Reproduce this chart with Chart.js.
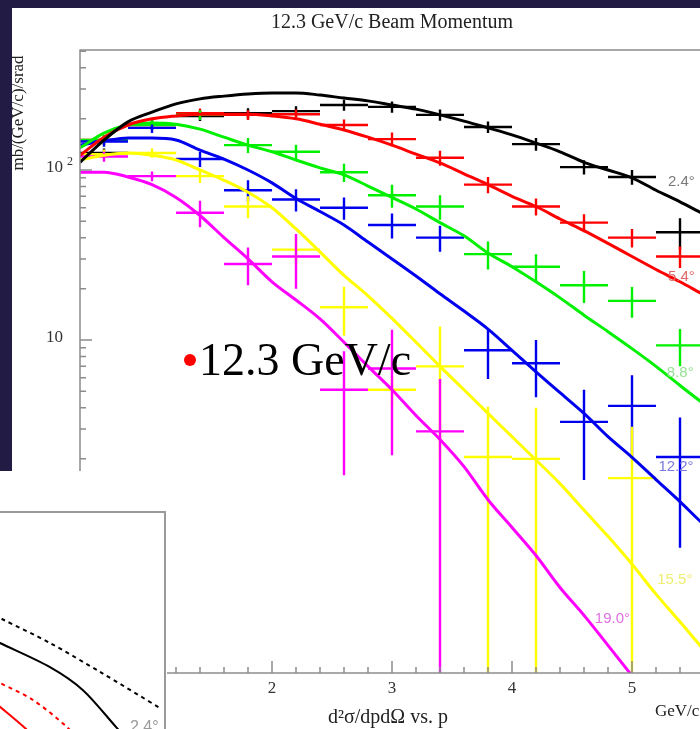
<!DOCTYPE html>
<html>
<head>
<meta charset="utf-8">
<title>12.3 GeV/c Beam Momentum</title>
<script src="https://cdn.jsdelivr.net/npm/chart.js@4.4.1/dist/chart.umd.min.js"></script>
<style>
  html, body { margin: 0; padding: 0; }
  body { position: relative; width: 700px; height: 729px; overflow: hidden; background: #221c44; }
  canvas { display: block; }
  #sheet { position: absolute; left: 12px; top: 8px; width: 790px; height: 721px; background: #fff; }
  #inset { position: absolute; left: 0; top: 471px; width: 167px; height: 258px; background: #fff; }
  #bullet { position: absolute; left: 184px; top: 354px; width: 12px; height: 12px; border-radius: 50%; background: #f00; }
  #caption { position: absolute; left: 199px; top: 337px; font: 46px/46px "Liberation Serif", "Times New Roman", serif; color: #000; white-space: nowrap; }
</style>
</head>
<body>
<div id="sheet"><canvas id="main" width="790" height="721"></canvas></div>
<div id="inset"><canvas id="inset-canvas" width="167" height="258"></canvas></div>
<div id="bullet"></div>
<div id="caption">12.3 GeV/c</div>
<script>
// momentum grid for the model curves (GeV/c)
const pCurve = [0.4, 0.6, 0.8, 1.0, 1.2, 1.4, 1.6, 1.8, 2.0, 2.2, 2.4, 2.6, 2.8, 3.0, 3.2,
  3.4, 3.6, 3.8, 4.0, 4.2, 4.4, 4.6, 4.8, 5.0, 5.2, 5.4, 5.6, 5.8, 6.0];

// model curves, mb/(GeV/c)/srad
const curve24 = [111, 150, 192, 219, 245, 262, 272, 280, 284, 284, 276, 265, 255, 241, 228,
  211, 194, 177, 161, 144, 128, 111, 100, 90, 76, 65, 55, 47, 39];
const curve54 = [122, 156, 184, 200, 208, 213, 213, 213, 208, 200, 186, 172, 156, 140, 124,
  110, 95, 82, 70, 61, 51.5, 44, 37, 31, 26, 22, 18.4, 15.5, 13];
const curve88 = [135, 165, 184, 189, 186, 174, 156, 140, 128, 114.5, 103, 93.5, 80.5, 69, 59,
  49, 41, 32.5, 27, 22, 17.7, 14, 11.2, 8.9, 7.0, 5.4, 4.2, 3.3, 2.6];
const curve122 = [140, 148, 154, 154, 150, 131, 116, 100, 84, 68, 57, 47.5, 37.7, 30, 23.8,
  18.7, 14.8, 11.6, 8.7, 6.5, 4.9, 3.7, 2.7, 2.04, 1.51, 1.12, 0.82, 0.64, 0.51];
const curve155 = [114.5, 122, 126, 122, 114.5, 100, 87, 74, 60, 45, 33, 24, 18.2, 13.4, 9.7,
  7.0, 5.1, 3.7, 2.7, 1.97, 1.43, 1.0, 0.70, 0.48, 0.32, 0.22, 0.15, 0.105, 0.076];
const curve190 = [97, 97, 91, 82, 69, 54, 40, 30, 22, 17.2, 13.3, 9.7, 7.0, 5.1, 3.6,
  2.6, 1.8, 1.15, 0.79, 0.54, 0.35, 0.24, 0.16, 0.106, 0.07, 0.045, 0.03, 0.02, 0.013];

// measured bins: centre momentum, value and error
const pBins = [0.6, 1.0, 1.4, 1.8, 2.2, 2.6, 3.0, 3.4, 3.8, 4.2, 4.6, 5.0, 5.4];
const binHalfWidth = 0.2;

const data24 = [126, 185, 208, 216, 222, 241, 235, 211, 179, 142, 104, 91, 43];
const err24 = [8, 12, 14, 15, 15, 18, 18, 16, 14, 12, 10, 9, 9];
const data54 = [150, 184, 216, 211, 213, 184, 152, 118, 82, 61, 49, 40, 31];
const err54 = [10, 12, 14, 14, 14, 14, 14, 12, 9, 7, 6, 5, 4.5];
const data88 = [150, 184, 211, 140, 128, 97, 71, 61, 32, 27, 21, 17, 9.3];
const err88 = [10, 12, 14, 14, 13, 12, 11, 10, 6, 5, 4.5, 3.5, 2.3];
const data122 = [147, 177, 116, 76, 67, 60, 47.5, 40, 8.7, 7.3, 3.3, 4.1, 2.05];
const err122 = [10, 12, 12, 11, 10, 9, 8, 7, 2.8, 2.7, 1.8, 2.1, 1.45];
const data155 = [124, 126, 92, 61, 34, 15.6, 5.1, 7.0, 2.05, 2.0, null, 1.54, null];
const err155 = [8, 8, 8, 9, 6.4, 5, 1, 5, 2.0, 2.0, null, 1.55, null];
const data190 = [120, 92, 56, 28, 31, 5.1, 6.8, 2.9, null, null, null, null, null];
const err190 = [8, 6, 10, 7, 11, 3.5, 4.7, 3, null, null, null, null, null];

const angleNames = ["2.4°", "5.4°", "8.8°", "12.2°", "15.5°", "19.0°"];
const angleLabelP = [5.3, 5.3, 5.29, 5.22, 5.21, 4.69];
const angleLabelV = [85, 23.5, 6.4, 1.8, 0.39, 0.23];

const xTickValues = [2, 3, 4, 5];
const xTickLabels = ["2", "3", "4", "5"];
const yTickValues = [1, 10, 100];
const yTickLabels = ["1", "10", "10"];
const yTickExponents = ["", "", "2"];

// second figure, lower left
const insetDashedBlackP = [3.4, 3.62, 4.1, 4.6, 5.2];
const insetDashedBlack = [6.5, 5.16, 3.10, 1.68, 0.78];
const insetSolidBlackP = [3.4, 3.6, 4.1, 4.43, 4.77, 5.0];
const insetSolidBlack = [3.8, 3.10, 1.86, 1.14, 0.51, 0.3];
const insetDashedRedP = [3.4, 3.6, 3.93, 4.27, 4.6];
const insetDashedRed = [1.65, 1.33, 0.925, 0.52, 0.25];
const insetSolidRedP = [3.4, 3.6, 3.85, 4.2];
const insetSolidRed = [1.14, 0.80, 0.51, 0.25];

const seriesColors = ["#000000", "#ff0000", "#00f000", "#0000ee", "#ffff00", "#ff00ff"];
const angleColors = ["#7a7a7a", "#e06a6a", "#96e096", "#7a7ae0", "#eeee70", "#e070e0"];

const serif = '"Liberation Serif", "Times New Roman", serif';
const sans = '"Liberation Sans", Arial, Helvetica, sans-serif';
const axisGray = "#8c8c8c";

const curves = [curve24, curve54, curve88, curve122, curve155, curve190];
const binValues = [data24, data54, data88, data122, data155, data190];
const binErrors = [err24, err54, err88, err122, err155, err190];

function toPoints(xs, ys) {
  return xs.map((x, i) => ({ x: x, y: ys[i] }));
}

const datasets = [];
curves.forEach((c, k) => {
  datasets.push({
    data: toPoints(pCurve, c),
    showLine: true,
    borderColor: seriesColors[k],
    borderWidth: 3,
    pointRadius: 0,
    cubicInterpolationMode: "monotone",
    order: 0,
  });
});
binValues.forEach((vals, k) => {
  const pts = [];
  vals.forEach((v, i) => {
    if (v != null) pts.push({ x: pBins[i], y: v, err: binErrors[k][i] });
  });
  datasets.push({
    data: pts,
    showLine: false,
    borderColor: seriesColors[k],
    pointRadius: 0,
    crosses: true,
    order: 1,
  });
});

// ROOT-like frame: ticks inside the frame, error crosses, texts
const rootAxes = {
  id: "rootAxes",
  beforeDatasetsDraw(chart) {
    const { ctx, chartArea: a, scales: { x, y } } = chart;
    ctx.save();
    ctx.beginPath();
    ctx.rect(a.left, a.top, a.right - a.left, a.bottom - a.top);
    ctx.clip();
    ctx.lineWidth = 2.4;
    chart.data.datasets.forEach((ds) => {
      if (!ds.crosses) return;
      ctx.strokeStyle = ds.borderColor;
      ds.data.forEach((pt) => {
        const px = x.getPixelForValue(pt.x);
        const py = y.getPixelForValue(pt.y);
        const top = y.getPixelForValue(pt.y + pt.err);
        const bot = pt.y - pt.err > 0 ? y.getPixelForValue(pt.y - pt.err) : a.bottom;
        ctx.beginPath();
        ctx.moveTo(x.getPixelForValue(pt.x - binHalfWidth), py);
        ctx.lineTo(x.getPixelForValue(pt.x + binHalfWidth), py);
        ctx.moveTo(px, top);
        ctx.lineTo(px, bot);
        ctx.stroke();
      });
    });
    ctx.restore();
  },
  afterDraw(chart) {
    const { ctx, chartArea: a, scales: { x, y } } = chart;
    ctx.save();

    // frame
    ctx.strokeStyle = axisGray;
    ctx.lineWidth = 1.5;
    ctx.strokeRect(a.left, a.top, a.right - a.left, a.bottom - a.top);

    // x ticks every 0.2, long ones on whole numbers
    ctx.beginPath();
    for (let k = 2; k <= 30; k++) {
      const v = k / 5;
      if (v < x.min || v > x.max) continue;
      const px = x.getPixelForValue(v);
      ctx.moveTo(px, a.bottom);
      ctx.lineTo(px, a.bottom - (k % 5 === 0 ? 12 : 6));
    }
    // y ticks, log decades
    for (let d = -1; d <= 2; d++) {
      for (let m = 1; m <= 9; m++) {
        const v = m * Math.pow(10, d);
        if (v < y.min || v > y.max) continue;
        const py = y.getPixelForValue(v);
        ctx.moveTo(a.left, py);
        ctx.lineTo(a.left + (m === 1 ? 12 : 6), py);
      }
    }
    ctx.stroke();

    ctx.fillStyle = "#333";
    ctx.font = "17px " + serif;
    ctx.textAlign = "center";
    ctx.textBaseline = "middle";
    xTickValues.forEach((v, i) => {
      ctx.fillText(xTickLabels[i], x.getPixelForValue(v), 681);
    });

    yTickValues.forEach((v, i) => {
      const py = y.getPixelForValue(v);
      ctx.font = "17px " + serif;
      ctx.textAlign = "right";
      ctx.fillText(yTickLabels[i], 51, py - 2);
      if (yTickExponents[i]) {
        ctx.font = "12px " + serif;
        ctx.textAlign = "left";
        ctx.fillText(yTickExponents[i], 55, py - 8);
      }
    });

    // titles
    ctx.fillStyle = "#222";
    ctx.font = "20px " + serif;
    ctx.textAlign = "center";
    ctx.textBaseline = "alphabetic";
    ctx.fillText("12.3 GeV/c Beam Momentum", 380, 20);

    ctx.textAlign = "left";
    ctx.fillText("d\u00b2\u03c3/dpd\u03a9 vs. p", 316, 715);
    ctx.font = "17px " + serif;
    ctx.fillText("GeV/c", 643, 708);

    ctx.save();
    ctx.translate(7, 105);
    ctx.rotate(-Math.PI / 2);
    ctx.textAlign = "center";
    ctx.textBaseline = "middle";
    ctx.font = "17px " + serif;
    ctx.fillText("mb/(GeV/c)/srad", 0, 0);
    ctx.restore();

    // angle labels beside the curves
    ctx.font = "15px " + sans;
    ctx.textAlign = "left";
    ctx.textBaseline = "middle";
    angleNames.forEach((name, i) => {
      ctx.fillStyle = angleColors[i];
      ctx.fillText(name, x.getPixelForValue(angleLabelP[i]), y.getPixelForValue(angleLabelV[i]));
    });

    ctx.restore();
  },
};

new Chart(document.getElementById("main"), {
  type: "scatter",
  data: { datasets: datasets },
  options: {
    responsive: false,
    animation: false,
    events: [],
    layout: { padding: { left: 68, top: 42, right: 50, bottom: 56 } },
    scales: {
      x: { type: "linear", min: 0.4, max: 6.0, display: false },
      y: { type: "logarithmic", min: 0.11, max: 508, display: false },
    },
    plugins: { legend: { display: false }, tooltip: { enabled: false } },
  },
  plugins: [rootAxes],
});

const insetFrame = {
  id: "insetFrame",
  afterDraw(chart) {
    const { ctx, chartArea: a } = chart;
    ctx.save();
    ctx.strokeStyle = "#9a9a9a";
    ctx.lineWidth = 2;
    ctx.beginPath();
    ctx.moveTo(0, a.top);
    ctx.lineTo(a.right, a.top);
    ctx.lineTo(a.right, a.bottom);
    ctx.stroke();
    ctx.fillStyle = "#9a9a9a";
    ctx.font = "16px " + sans;
    ctx.textAlign = "left";
    ctx.fillText("2.4°", 130, 261);
    ctx.restore();
  },
};

new Chart(document.getElementById("inset-canvas"), {
  type: "scatter",
  data: {
    datasets: [
      { data: toPoints(insetDashedBlackP, insetDashedBlack), borderColor: "#000", borderDash: [4, 4] },
      { data: toPoints(insetSolidBlackP, insetSolidBlack), borderColor: "#000" },
      { data: toPoints(insetDashedRedP, insetDashedRed), borderColor: "#ff0000", borderDash: [4, 4] },
      { data: toPoints(insetSolidRedP, insetSolidRed), borderColor: "#ff0000" },
    ].map((ds) => Object.assign(ds, { showLine: true, borderWidth: 2, pointRadius: 0, tension: 0.3 })),
  },
  options: {
    responsive: false,
    animation: false,
    events: [],
    layout: { padding: { left: 0, top: 41, right: 2, bottom: 0 } },
    scales: {
      x: { type: "linear", min: 3.6, max: 5.25, display: false },
      y: { type: "logarithmic", min: 0.5, max: 50, display: false },
    },
    plugins: { legend: { display: false }, tooltip: { enabled: false } },
  },
  plugins: [insetFrame],
});
</script>
</body>
</html>
